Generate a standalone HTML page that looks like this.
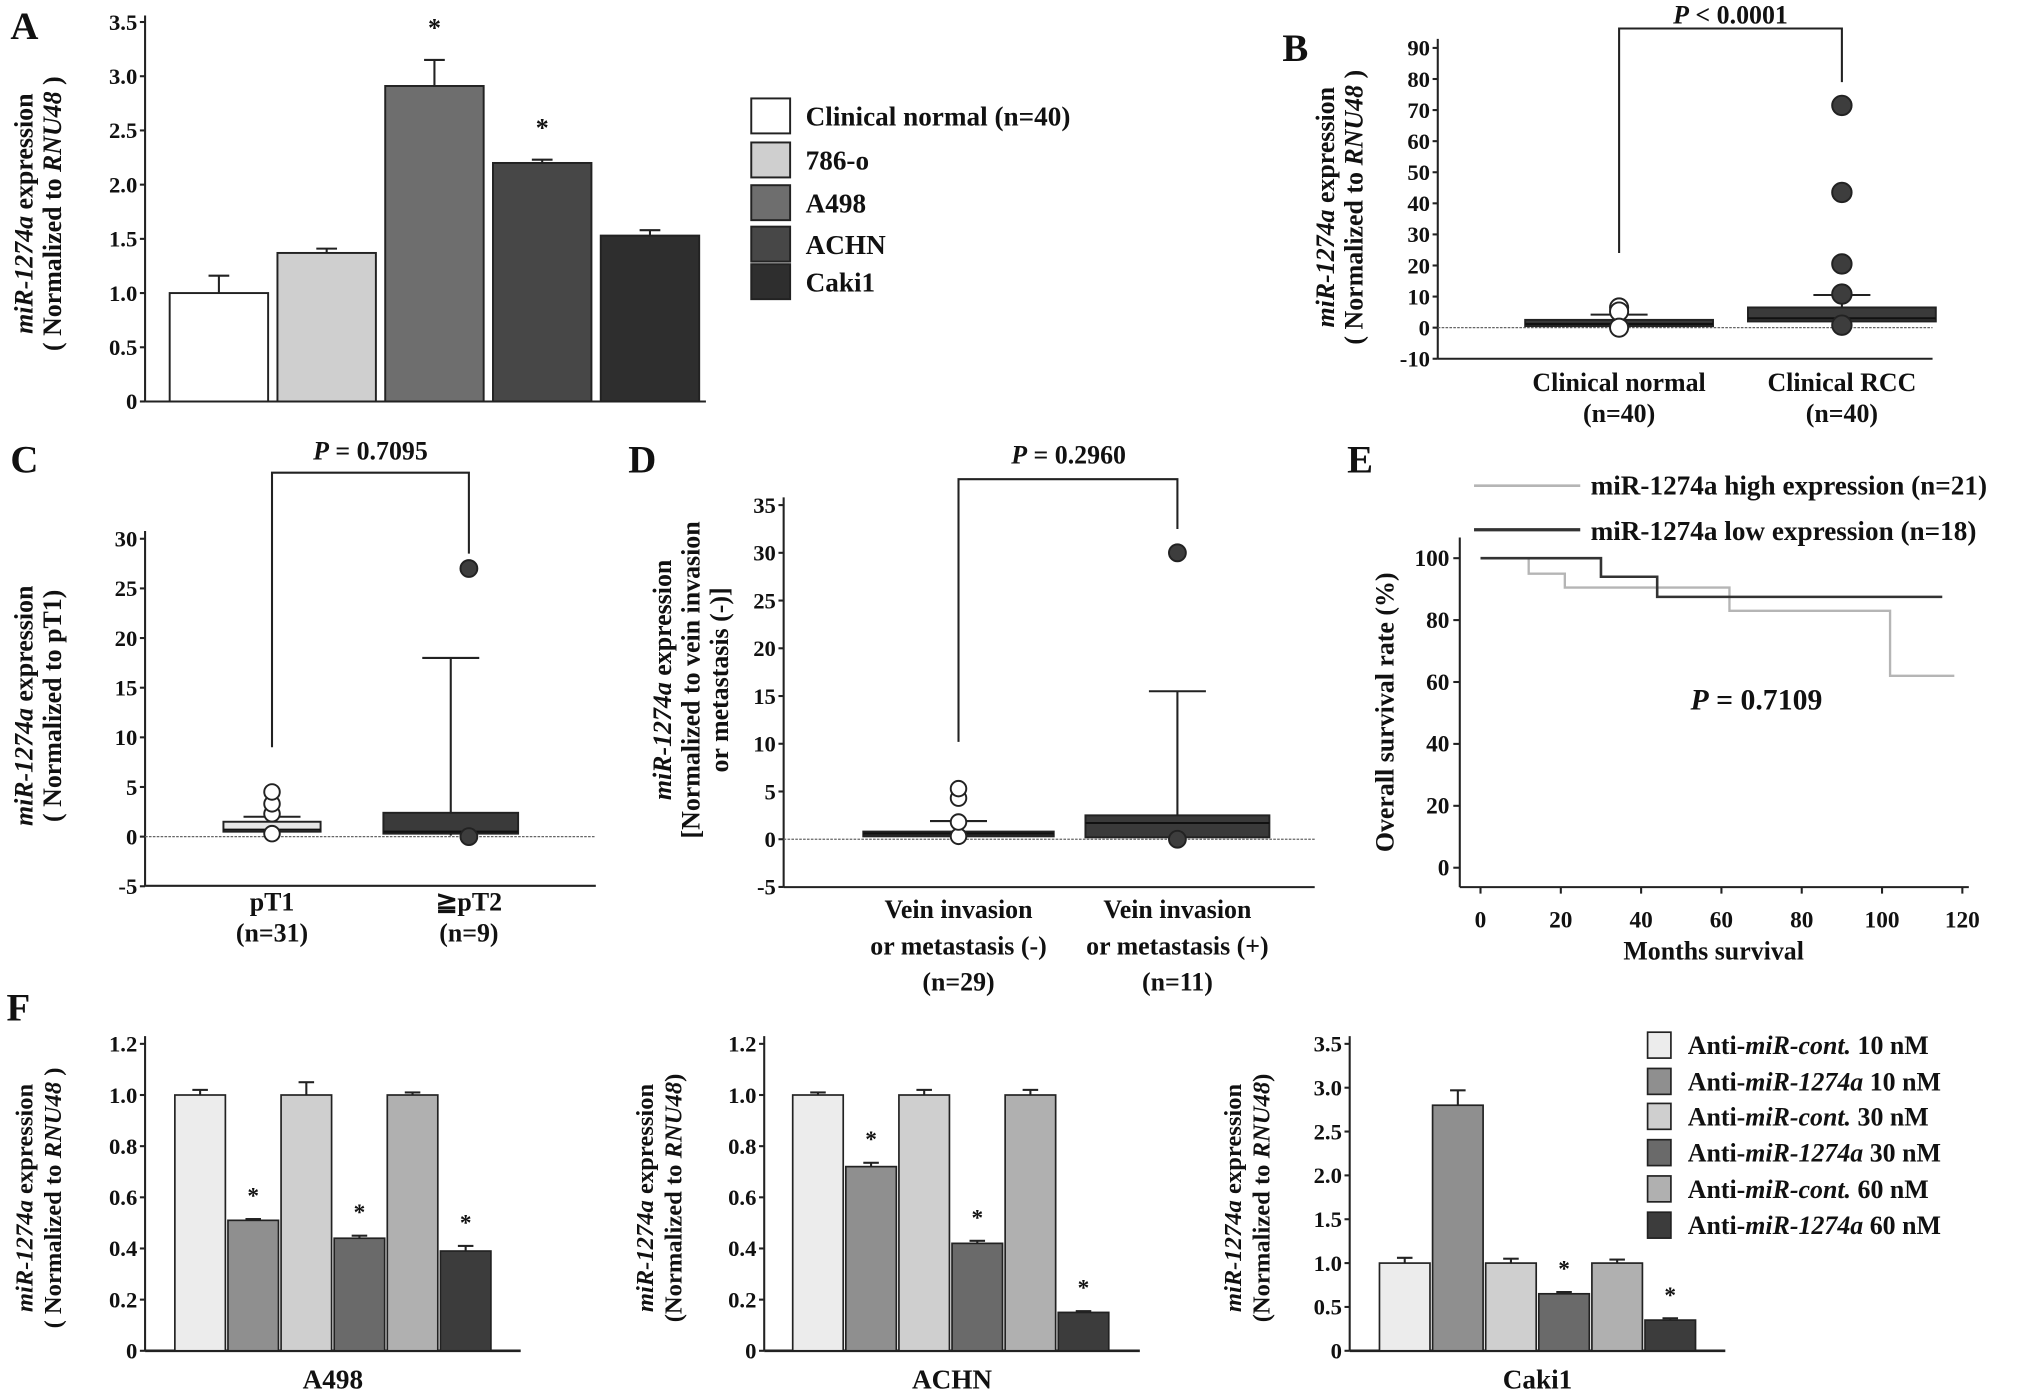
<!DOCTYPE html>
<html><head><meta charset="utf-8">
<style>
html,body{margin:0;padding:0;background:#fff;}
svg{display:block;}
text{font-family:"Liberation Serif",serif;font-weight:bold;fill:#111;}
</style></head>
<body>
<svg id="fig" xmlns="http://www.w3.org/2000/svg" width="2031" height="1400" viewBox="0 0 1568 1081" preserveAspectRatio="none"></svg>
<script>
// ---------- DATA ----------
const aCategories = ['Clinical normal (n=40)','786-o','A498','ACHN','Caki1'];
const aValues = [1.0, 1.37, 2.91, 2.20, 1.53];
const aErrors = [0.16, 0.04, 0.24, 0.03, 0.05];
const aSig = [0, 0, 1, 1, 0];
const aTicks = [0, 0.5, 1.0, 1.5, 2.0, 2.5, 3.0, 3.5];
const aTickLabels = ['0','0.5','1.0','1.5','2.0','2.5','3.0','3.5'];
const bGroups = ['Clinical normal','Clinical RCC'];
const bLow = [0.3, 1.8];
const bQ1 = [0.5, 2.0];
const bMed = [1.2, 3.0];
const bQ3 = [2.5, 6.5];
const bHigh = [4.2, 10.5];
const bOutNormal = [6.5, 5.2, 0];
const bOutRCC = [71.5, 43.5, 20.5, 10.8, 0.8];
const bTicks = [-10,0,10,20,30,40,50,60,70,80,90];
const cLow = [0.3, 0.1];
const cQ1 = [0.5, 0.3];
const cMed = [0.7, 0.5];
const cQ3 = [1.5, 2.4];
const cHigh = [2.0, 18.0];
const cOutPT1 = [0.3, 2.3, 3.3, 4.5];
const cOutPT2 = [27.0, 0.0];
const cTicks = [-5,0,5,10,15,20,25,30];
const dLow = [0.2, 0.1];
const dQ1 = [0.3, 0.2];
const dMed = [0.6, 1.7];
const dQ3 = [0.8, 2.5];
const dHigh = [1.9, 15.5];
const dOutNeg = [0.3, 1.8, 4.3, 5.3];
const dOutPos = [30.0, 0.0];
const dTicks = [-5,0,5,10,15,20,25,30,35];
const eHighMonths = [0, 12, 21, 62, 102, 118];
const eHighSurv = [100, 95, 90.5, 83, 62, 62];
const eLowMonths = [0, 30, 44, 115];
const eLowSurv = [100, 94, 87.5, 87.5];
const eXTicks = [0,20,40,60,80,100,120];
const eYTicks = [0,20,40,60,80,100];
const fSeries = ['Anti-miR-cont. 10 nM','Anti-miR-1274a 10 nM','Anti-miR-cont. 30 nM','Anti-miR-1274a 30 nM','Anti-miR-cont. 60 nM','Anti-miR-1274a 60 nM'];
const fA498 = [1.0, 0.51, 1.0, 0.44, 1.0, 0.39];
const fA498Err = [0.02, 0.005, 0.05, 0.01, 0.01, 0.02];
const fACHN = [1.0, 0.72, 1.0, 0.42, 1.0, 0.15];
const fACHNErr = [0.01, 0.015, 0.02, 0.01, 0.02, 0.005];
const fCaki = [1.0, 2.8, 1.0, 0.65, 1.0, 0.35];
const fCakiErr = [0.06, 0.17, 0.05, 0.02, 0.04, 0.02];
const fA498Sig = [0,1,0,1,0,1];
const fACHNSig = [0,1,0,1,0,1];
const fCakiSig = [0,0,0,1,0,1];
const fTicks12 = [0,0.2,0.4,0.6,0.8,1.0,1.2];
const fTicks35 = [0,0.5,1.0,1.5,2.0,2.5,3.0,3.5];

// ---------- HELPERS ----------
const NS = 'http://www.w3.org/2000/svg';
const svg = document.getElementById('fig');
function mk(tag, attrs, name) {
  const el = document.createElementNS(NS, tag);
  for (const k in attrs) el.setAttribute(k, attrs[k]);
  
  
  svg.appendChild(el);
  return el;
}
function line(x1,y1,x2,y2,name,w,col,dash){
  const a={x1:x1,y1:y1,x2:x2,y2:y2,stroke:col||'#222','stroke-width':w||1.6};
  if(dash) a['stroke-dasharray']=dash;
  return mk('line',a,name);
}
function rect(x,y,w,h,fill,name,sw){
  return mk('rect',{x:x,y:Math.min(y,y+h),width:w,height:Math.abs(h),fill:fill,stroke:'#222','stroke-width':sw||1.5},name);
}
function circ(cx,cy,r,fill,name){
  return mk('circle',{cx:cx,cy:cy,r:r,fill:fill,stroke:'#222','stroke-width':1.5},name);
}
function txt(x,y,html,name,size,anchor,rot){
  const a={x:x,y:y,'font-size':size||17,'text-anchor':anchor||'middle'};
  if(rot) a.transform='rotate(-90 '+x+' '+y+')';
  const t=mk('text',a,name);
  t.innerHTML=html;
  return t;
}
function scale(v0,p0,v1,p1){return v=>p0+(v-v0)*(p1-p0)/(v1-v0);}
function yAxis(x,ticks,labels,ys,top,bottom,name){
  line(x,top,x,bottom,name+'-y-axis');
  ticks.forEach((t,i)=>{
    line(x-4,ys(t),x,ys(t),name+'-y-tick');
    txt(x-6,ys(t)+6,labels?labels[i]:String(t),name+'-y-tick-label',17.5,'end');
  });
}
const I = s => '<tspan font-style="italic">'+s+'</tspan>';

// ---------- PANEL A ----------
txt(8,30,'A','panel-label-a',30,'start');
const aY = scale(0,310,3.5,17);
yAxis(112,aTicks,aTickLabels,aY,12,310,'panel-a');
line(112,310,545,310,'panel-a-x-axis');
const aFills=['#ffffff','#cfcfcf','#6e6e6e','#474747','#2e2e2e'];
aValues.forEach((v,i)=>{
  const x=131+i*83.2, w=76;
  line(x+w/2,aY(v),x+w/2,aY(v+aErrors[i]),'bar-a-error');
  line(x+w/2-8,aY(v+aErrors[i]),x+w/2+8,aY(v+aErrors[i]),'bar-a-error-cap');
  rect(x,aY(v),w,aY(0)-aY(v),aFills[i],'bar-a-'+aCategories[i].split(' ')[0].toLowerCase());
  if(aSig[i]) txt(x+w/2,aY(v+aErrors[i])-18,'*','bar-a-significance',20);
});
txt(25,165,I('miR-1274a')+' expression','panel-a-y-title',20,'middle',true);
txt(47,165,'( Normalized to '+I('RNU48')+' )','panel-a-y-title-2',20,'middle',true);
const aLegY=[76,110,143,175,204];
aCategories.forEach((c,i)=>{
  rect(580,aLegY[i],30,27,aFills[i],'legend-a-swatch');
  txt(622,aLegY[i]+21,c,'legend-a-entry',21,'start');
});

// ---------- PANEL B ----------
txt(990,47,'B','panel-label-b',30,'start');
const bY = scale(0,253,90,37);
yAxis(1110,bTicks,null,bY,30,277,'panel-b');
line(1110,277,1492,277,'panel-b-x-axis');
line(1110,bY(0),1492,bY(0),'panel-b-zero-line',1,'#666','2,1');
const bCx=[1250,1422], bW=145;
function boxplot(cx,w,lo,q1,md,q3,hi,ys,fill,name){
  line(cx,ys(q3),cx,ys(hi),name+'-whisker');
  line(cx-22,ys(hi),cx+22,ys(hi),name+'-whisker-cap');
  line(cx,ys(q1),cx,ys(lo),name+'-whisker-low');
  rect(cx-w/2,ys(q3),w,ys(q1)-ys(q3),fill,name+'-box');
  line(cx-w/2,ys(md),cx+w/2,ys(md),name+'-median',1.6,'#111');
}
bGroups.forEach((g,i)=>{
  boxplot(bCx[i],bW,bLow[i],bQ1[i],bMed[i],bQ3[i],bHigh[i],bY,'#3a3a3a','box-b-'+i);
});
bOutNormal.forEach(v=>circ(bCx[0],bY(v),7,'#fff','outlier-b-normal'));
bOutRCC.forEach(v=>circ(bCx[1],bY(v),7.5,'#3d3d3d','outlier-b-rcc'));
mk('polyline',{points:bCx[0]+','+bY(24)+' '+bCx[0]+',22 '+bCx[1]+',22 '+bCx[1]+','+bY(79),fill:'none',stroke:'#222','stroke-width':1.6},'bracket-b');
txt(1336,18,I('P')+' &lt; 0.0001','p-value-b',20);
txt(1030,160,I('miR-1274a')+' expression','panel-b-y-title',20,'middle',true);
txt(1052,160,'( Normalized to '+I('RNU48')+' )','panel-b-y-title-2',20,'middle',true);
txt(1250,302,'Clinical normal','x-label-b-normal',20);
txt(1250,326,'(n=40)','x-label-b-normal-n',20);
txt(1422,302,'Clinical RCC','x-label-b-rcc',20);
txt(1422,326,'(n=40)','x-label-b-rcc-n',20);

// ---------- PANEL C ----------
txt(8,365,'C','panel-label-c',30,'start');
const cY = scale(0,646,30,416);
yAxis(112,cTicks,null,cY,410,684,'panel-c');
line(112,684,460,684,'panel-c-x-axis');
line(112,cY(0),460,cY(0),'panel-c-zero-line',1,'#666','2,1');
boxplot(210,75,cLow[0],cQ1[0],cMed[0],cQ3[0],cHigh[0],cY,'#e6e6e6','box-c-pt1');
boxplot(348,104,cLow[1],cQ1[1],cMed[1],cQ3[1],cHigh[1],cY,'#3a3a3a','box-c-pt2');
cOutPT1.forEach(v=>circ(210,cY(v),6,'#fff','outlier-c-pt1'));
cOutPT2.forEach(v=>circ(362,cY(v),6.5,'#3d3d3d','outlier-c-pt2'));
mk('polyline',{points:'210,'+cY(9)+' 210,365 362,365 362,'+cY(28.5),fill:'none',stroke:'#222','stroke-width':1.6},'bracket-c');
txt(286,355,I('P')+' = 0.7095','p-value-c',20);
txt(25,545,I('miR-1274a')+' expression','panel-c-y-title',20,'middle',true);
txt(47,545,'( Normalized to pT1)','panel-c-y-title-2',20,'middle',true);
txt(210,703,'pT1','x-label-c-pt1',20);
txt(210,727,'(n=31)','x-label-c-pt1-n',20);
txt(362,703,'≧pT2','x-label-c-pt2',20);
txt(362,727,'(n=9)','x-label-c-pt2-n',20);

// ---------- PANEL D ----------
txt(485,365,'D','panel-label-d',30,'start');
const dY = scale(0,648,35,390);
yAxis(605,dTicks,null,dY,384,685,'panel-d');
line(605,685,1015,685,'panel-d-x-axis');
line(605,dY(0),1015,dY(0),'panel-d-zero-line',1,'#666','2,1');
boxplot(740,147,dLow[0],dQ1[0],dMed[0],dQ3[0],dHigh[0],dY,'#2e2e2e','box-d-neg');
boxplot(909,142,dLow[1],dQ1[1],dMed[1],dQ3[1],dHigh[1],dY,'#3a3a3a','box-d-pos');
dOutNeg.forEach(v=>circ(740,dY(v),6,'#fff','outlier-d-neg'));
dOutPos.forEach(v=>circ(909,dY(v),6.5,'#3d3d3d','outlier-d-pos'));
mk('polyline',{points:'740,'+dY(10.2)+' 740,370 909,370 909,'+dY(32.5),fill:'none',stroke:'#222','stroke-width':1.6},'bracket-d');
txt(825,358,I('P')+' = 0.2960','p-value-d',20);
txt(518,525,I('miR-1274a')+' expression','panel-d-y-title',20,'middle',true);
txt(540,525,'[Normalized to vein invasion','panel-d-y-title-2',20,'middle',true);
txt(562,525,'or metastasis (-)]','panel-d-y-title-3',20,'middle',true);
[['Vein invasion','or metastasis (-)','(n=29)',740],['Vein invasion','or metastasis (+)','(n=11)',909]].forEach((l,i)=>{
  txt(l[3],709,l[0],'x-label-d-'+i,20);
  txt(l[3],737,l[1],'x-label-d-'+i+'-b',20);
  txt(l[3],765,l[2],'x-label-d-'+i+'-n',20);
});

// ---------- PANEL E ----------
txt(1040,365,'E','panel-label-e',30,'start');
const eX = scale(0,1143,120,1515);
const eY = scale(0,670,100,431);
line(1127,415,1127,685,'panel-e-y-axis');
line(1127,685,1520,685,'panel-e-x-axis');
eYTicks.forEach(t=>{line(1122,eY(t),1127,eY(t),'panel-e-y-tick');txt(1119,eY(t)+6,String(t),'panel-e-y-tick-label',18,'end');});
eXTicks.forEach(t=>{line(eX(t),685,eX(t),690,'panel-e-x-tick');txt(eX(t),716,String(t),'panel-e-x-tick-label',18);});
function steps(ms,ss){
  let p=eX(ms[0])+','+eY(ss[0]);
  for(let i=1;i<ms.length;i++){p+=' '+eX(ms[i])+','+eY(ss[i-1])+' '+eX(ms[i])+','+eY(ss[i]);}
  return p;
}
mk('polyline',{points:steps(eHighMonths,eHighSurv),fill:'none',stroke:'#b5b5b5','stroke-width':1.8},'km-curve-high');
mk('polyline',{points:steps(eLowMonths,eLowSurv),fill:'none',stroke:'#333','stroke-width':2},'km-curve-low');
line(1138,375,1220,375,'legend-e-high-line',2,'#b5b5b5');
line(1138,409,1220,409,'legend-e-low-line',2.5,'#333');
txt(1228,382,'miR-1274a  high expression (n=21)','legend-e-high',21,'start');
txt(1228,417,'miR-1274a  low expression (n=18)','legend-e-low',21,'start');
txt(1356,548,I('P')+' = 0.7109','p-value-e',23);
txt(1076,550,'Overall survival rate  (%)','panel-e-y-title',20,'middle',true);
txt(1323,741,'Months survival','panel-e-x-title',20);

// ---------- PANEL F ----------
txt(5,788,'F','panel-label-f',30,'start');
const fFills=['#ececec','#8f8f8f','#cfcfcf','#6a6a6a','#b0b0b0','#3c3c3c'];
function fPanel(ax,vals,errs,sig,maxV,ticks,labels,barX,name,xl){
  const ys=scale(0,1043,maxV,806);
  yAxis(ax,ticks,labels,ys,800,1043,name);
  line(ax,1043,ax+290,1043,name+'-x-axis',2);
  vals.forEach((v,i)=>{
    const x=barX+i*41, w=39;
    line(x+w/2,ys(v),x+w/2,ys(v+errs[i]),name+'-error');
    line(x+w/2-6,ys(v+errs[i]),x+w/2+6,ys(v+errs[i]),name+'-error-cap');
    rect(x,ys(v),w,ys(0)-ys(v),fFills[i],name+'-bar-'+i,1.3);
    if(sig[i]) txt(x+w/2,ys(v+errs[i])-12,'*','significance-star',18);
  });
  txt(ax+145,1072,xl,name+'-x-label',21);
}
fPanel(112,fA498,fA498Err,fA498Sig,1.2,fTicks12,['0','0.2','0.4','0.6','0.8','1.0','1.2'],135,'panel-f-a498','A498');
fPanel(590,fACHN,fACHNErr,fACHNSig,1.2,fTicks12,['0','0.2','0.4','0.6','0.8','1.0','1.2'],612,'panel-f-achn','ACHN');
fPanel(1042,fCaki,fCakiErr,fCakiSig,3.5,fTicks35,['0','0.5','1.0','1.5','2.0','2.5','3.0','3.5'],1065,'panel-f-caki1','Caki1');
txt(25,925,I('miR-1274a')+' expression','panel-f-a498-y-title',19,'middle',true);
txt(47,925,'( Normalized to '+I('RNU48')+' )','panel-f-a498-y-title-2',19,'middle',true);
txt(504,925,I('miR-1274a')+' expression','panel-f-achn-y-title',19,'middle',true);
txt(526,925,'(Normalized to '+I('RNU48')+')','panel-f-achn-y-title-2',19,'middle',true);
txt(958,925,I('miR-1274a')+' expression','panel-f-caki1-y-title',19,'middle',true);
txt(980,925,'(Normalized to '+I('RNU48')+')','panel-f-caki1-y-title-2',19,'middle',true);
const fLegY=[797,825,852,880,908,936];
const fLegHtml=['Anti-'+I('miR-cont.')+' 10 nM','Anti-'+I('miR-1274a')+' 10 nM','Anti-'+I('miR-cont.')+' 30 nM','Anti-'+I('miR-1274a')+' 30 nM','Anti-'+I('miR-cont.')+' 60 nM','Anti-'+I('miR-1274a')+' 60 nM'];
fSeries.forEach((s,i)=>{
  rect(1272,fLegY[i],18,20,fFills[i],'legend-f-swatch',1.3);
  txt(1303,fLegY[i]+17,fLegHtml[i],'legend-f-entry',20,'start');
});
</script>
</body></html>
